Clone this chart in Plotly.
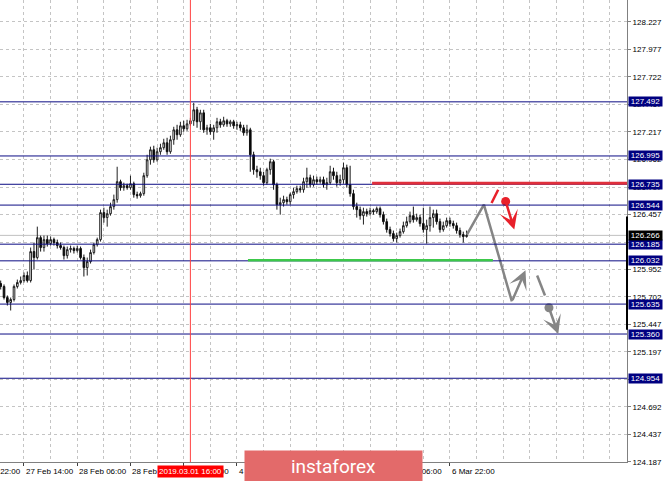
import plotly.graph_objects as go

# ---------------- data (H1 candles, bar index 1..141) ----------------
bars = list(range(1, 142))

opens = [
    125.824, 125.796, 125.695, 125.650, 125.677, 125.796, 125.833, 125.851, 125.897, 125.851,
    126.117, 126.062, 126.245, 126.154, 126.227, 126.190, 126.227, 126.200, 126.172, 126.154,
    126.080, 126.135, 126.145, 126.126, 126.145, 126.062, 125.970, 126.025, 126.108, 126.181,
    126.227, 126.475, 126.429, 126.465, 126.530, 126.594, 126.759, 126.704, 126.722, 126.704,
    126.740, 126.640, 126.630, 126.649, 126.814, 126.960, 127.052, 126.960, 127.034, 127.071,
    127.116, 127.034, 127.144, 127.235, 127.190, 127.272, 127.245, 127.290, 127.318, 127.419,
    127.309, 127.391, 127.235, 127.254, 127.217, 127.254, 127.309, 127.281, 127.318, 127.290,
    127.309, 127.272, 127.281, 127.254, 127.208, 127.235, 127.006, 126.869, 126.850, 126.814,
    126.750, 126.869, 126.942, 126.731, 126.548, 126.566, 126.594, 126.575, 126.640, 126.667,
    126.695, 126.685, 126.759, 126.795, 126.731, 126.777, 126.759, 126.777, 126.731, 126.750,
    126.850, 126.814, 126.750, 126.777, 126.887, 126.731, 126.649, 126.530, 126.502, 126.447,
    126.484, 126.465, 126.493, 126.484, 126.511, 126.456, 126.392, 126.319, 126.282, 126.236,
    126.264, 126.300, 126.355, 126.392, 126.447, 126.410, 126.429, 126.374, 126.319, 126.355,
    126.429, 126.465, 126.392, 126.319, 126.355, 126.401, 126.374, 126.355, 126.310, 126.273, 126.255,
]
highs = [
    125.851, 125.815, 125.714, 125.695, 125.815, 125.860, 125.888, 125.925, 125.934, 126.154,
    126.200, 126.346, 126.264, 126.264, 126.264, 126.255, 126.245, 126.227, 126.200, 126.172,
    126.163, 126.172, 126.163, 126.172, 126.163, 126.090, 126.062, 126.135, 126.200, 126.245,
    126.502, 126.520, 126.502, 126.566, 126.640, 126.896, 126.777, 126.750, 126.740, 126.814,
    126.759, 126.667, 126.667, 126.841, 127.006, 127.080, 127.089, 127.071, 127.107, 127.153,
    127.162, 127.181, 127.263, 127.281, 127.309, 127.318, 127.327, 127.345, 127.483, 127.446,
    127.419, 127.419, 127.281, 127.290, 127.281, 127.345, 127.336, 127.355, 127.336, 127.327,
    127.327, 127.309, 127.309, 127.281, 127.281, 127.254, 127.034, 126.905, 126.887, 126.850,
    126.887, 126.970, 126.960, 126.750, 126.612, 126.630, 126.621, 126.658, 126.704, 126.722,
    126.722, 126.795, 126.887, 126.823, 126.814, 126.805, 126.805, 126.805, 126.795, 126.905,
    126.887, 126.850, 126.823, 126.933, 126.915, 126.905, 126.685, 126.566, 126.530, 126.520,
    126.511, 126.520, 126.511, 126.530, 126.530, 126.484, 126.420, 126.346, 126.310, 126.291,
    126.328, 126.392, 126.438, 126.484, 126.530, 126.465, 126.456, 126.520, 126.410, 126.530,
    126.502, 126.502, 126.420, 126.392, 126.429, 126.429, 126.401, 126.383, 126.337, 126.300, 126.310,
]
lows = [
    125.769, 125.677, 125.622, 125.576, 125.659, 125.778, 125.815, 125.833, 125.833, 125.833,
    125.952, 126.044, 126.117, 126.117, 126.163, 126.172, 126.172, 126.145, 126.135, 126.044,
    126.053, 126.108, 126.099, 126.108, 126.044, 125.888, 125.897, 126.007, 126.090, 126.163,
    126.209, 126.383, 126.346, 126.447, 126.502, 126.566, 126.676, 126.676, 126.685, 126.685,
    126.612, 126.603, 126.612, 126.630, 126.795, 126.915, 126.933, 126.942, 127.006, 127.052,
    127.006, 127.015, 127.098, 127.144, 127.171, 127.217, 127.226, 127.272, 127.272, 127.254,
    127.235, 127.208, 127.190, 127.190, 127.144, 127.208, 127.254, 127.263, 127.263, 127.263,
    127.245, 127.235, 127.226, 127.181, 127.181, 126.850, 126.823, 126.795, 126.777, 126.722,
    126.731, 126.823, 126.685, 126.502, 126.456, 126.530, 126.548, 126.548, 126.603, 126.649,
    126.658, 126.658, 126.704, 126.704, 126.713, 126.731, 126.740, 126.704, 126.685, 126.731,
    126.777, 126.713, 126.722, 126.740, 126.704, 126.621, 126.502, 126.429, 126.410, 126.365,
    126.438, 126.447, 126.456, 126.465, 126.429, 126.365, 126.291, 126.255, 126.209, 126.200,
    126.245, 126.282, 126.337, 126.374, 126.383, 126.392, 126.346, 126.291, 126.190, 126.300,
    126.337, 126.365, 126.291, 126.300, 126.337, 126.346, 126.328, 126.282, 126.245, 126.200, 126.245,
]
closes = [
    125.796, 125.695, 125.650, 125.677, 125.796, 125.833, 125.851, 125.897, 125.851, 126.117,
    126.062, 126.245, 126.154, 126.227, 126.190, 126.227, 126.200, 126.172, 126.154, 126.080,
    126.135, 126.145, 126.126, 126.145, 126.062, 125.970, 126.025, 126.108, 126.181, 126.227,
    126.475, 126.429, 126.465, 126.530, 126.594, 126.759, 126.704, 126.722, 126.704, 126.740,
    126.640, 126.630, 126.649, 126.814, 126.960, 127.052, 126.960, 127.034, 127.071, 127.116,
    127.034, 127.144, 127.235, 127.190, 127.272, 127.245, 127.290, 127.318, 127.419, 127.309,
    127.391, 127.235, 127.254, 127.217, 127.254, 127.309, 127.281, 127.318, 127.290, 127.309,
    127.272, 127.281, 127.254, 127.208, 127.235, 127.006, 126.869, 126.850, 126.814, 126.750,
    126.869, 126.942, 126.731, 126.548, 126.566, 126.594, 126.575, 126.640, 126.667, 126.695,
    126.685, 126.759, 126.795, 126.731, 126.777, 126.759, 126.777, 126.731, 126.750, 126.850,
    126.814, 126.750, 126.777, 126.887, 126.731, 126.649, 126.530, 126.502, 126.447, 126.484,
    126.465, 126.493, 126.484, 126.511, 126.456, 126.392, 126.319, 126.282, 126.236, 126.264,
    126.300, 126.355, 126.392, 126.447, 126.410, 126.429, 126.374, 126.319, 126.355, 126.429,
    126.465, 126.392, 126.319, 126.355, 126.401, 126.374, 126.355, 126.310, 126.273, 126.255, 126.266,
]

level_prices = [127.492, 126.995, 126.735, 126.544, 126.185, 126.032, 125.635, 125.360, 124.954]
current_price = 126.266

y_tick_vals = [124.187, 124.437, 124.692, 124.942, 125.197, 125.447, 125.702, 125.952,
               126.202, 126.457, 126.707, 126.962, 127.217, 127.467, 127.722, 127.977, 128.227]

x_label_pos = [8, 24, 40, 56, 72, 88, 104, 120, 136]
x_label_text = ["27 Feb 14:00", "28 Feb 06:00", "28 Feb 22:00", "1 Mar 14:00", "4 Mar 06:00",
                "4 Mar 22:00", "5 Mar 14:00", "6 Mar 06:00", "6 Mar 22:00"]
first_label_text = "26 Feb 22:00"
grid_minor_pos = [16, 32, 48, 64, 80, 96, 112, 128, 144, 152, 160, 168, 176, 184]

marker_bar = 58
marker_text = "2019.03.01 16:00"

resistance_price = 126.745
resistance_from = 112.6
support_price = 126.037
support_from, support_to = 75.3, 148.9

gray_path_x = [141.1, 146.2, 154.6]
gray_path_y = [126.273, 126.548, 125.659]
gray_arrow1_tip = (158.7, 125.945)
gray_seg_x = [162.2, 164.55]
gray_seg_y = [125.897, 125.714]
gray_dot = (165.75, 125.601)
gray_arrow2_tip = (168.55, 125.360)
red_seg_x = [148.5, 150.5]
red_seg_y = [126.563, 126.685]
red_dot = (152.74, 126.578)
red_arrow_tip = (155.33, 126.320)

# ---------------- figure ----------------
NAVY = "#0c0c84"
GRAY = "#858585"
RED = "#e8202a"
GRID = "#c4c4c4"
FONT = "Liberation Sans"

fig = go.Figure()

fig.add_trace(go.Candlestick(
    x=bars, open=opens, high=highs, low=lows, close=closes,
    increasing=dict(line=dict(color="#202020", width=1), fillcolor="white"),
    decreasing=dict(line=dict(color="#101010", width=1), fillcolor="black"),
    whiskerwidth=0, hoverinfo="skip", showlegend=False,
))

# scenario drawings
fig.add_trace(go.Scatter(x=gray_path_x, y=gray_path_y, mode="lines",
                         line=dict(color=GRAY, width=2.5), hoverinfo="skip"))
fig.add_trace(go.Scatter(x=gray_seg_x, y=gray_seg_y, mode="lines",
                         line=dict(color=GRAY, width=2.5), hoverinfo="skip"))
fig.add_trace(go.Scatter(x=red_seg_x, y=red_seg_y, mode="lines",
                         line=dict(color=RED, width=2.5), hoverinfo="skip"))
fig.add_trace(go.Scatter(x=[red_dot[0]], y=[red_dot[1]], mode="markers",
                         marker=dict(color=RED, size=9), hoverinfo="skip"))
fig.add_trace(go.Scatter(x=[gray_dot[0]], y=[gray_dot[1]], mode="markers",
                         marker=dict(color=GRAY, size=9), hoverinfo="skip"))

shapes = []
for p in level_prices:
    shapes.append(dict(type="line", xref="paper", x0=0, x1=1, yref="y", y0=p, y1=p,
                       line=dict(color=NAVY, width=1), layer="above"))
shapes.append(dict(type="line", xref="paper", x0=0, x1=1, yref="y", y0=current_price,
                   y1=current_price, line=dict(color="#c0c0c0", width=1), layer="below"))
shapes.append(dict(type="line", xref="x", x0=resistance_from, x1=189.2, yref="y",
                   y0=resistance_price, y1=resistance_price, line=dict(color="#e0303c", width=3)))
shapes.append(dict(type="line", xref="x", x0=support_from, x1=support_to, yref="y",
                   y0=support_price, y1=support_price, line=dict(color="#3cc84a", width=2.5)))
shapes.append(dict(type="line", xref="x", x0=marker_bar, x1=marker_bar, yref="paper",
                   y0=0, y1=1, line=dict(color="#ff4040", width=1)))
shapes.append(dict(type="line", xref="paper", x0=1, x1=1, yref="y", y0=126.44, y1=125.40,
                   line=dict(color="black", width=2)))

annotations = []
# x-axis labels (left aligned at tick)
annotations.append(dict(text=first_label_text, xref="paper", x=-29 / 627, xanchor="left",
                        yref="paper", y=0, yanchor="top", yshift=-3, showarrow=False,
                        font=dict(family=FONT, size=8, color="black")))
for pos, txt in zip(x_label_pos, x_label_text):
    annotations.append(dict(text=txt, xref="x", x=pos, xanchor="left", yref="paper", y=0,
                            yanchor="top", yshift=-3, showarrow=False,
                            font=dict(family=FONT, size=8, color="black")))
annotations.append(dict(text=marker_text, xref="x", x=marker_bar, xanchor="center",
                        yref="paper", y=0, yanchor="top", yshift=-3, showarrow=False,
                        bgcolor="#ff0000", borderpad=1,
                        font=dict(family=FONT, size=8, color="white")))
# price labels
for p in level_prices:
    annotations.append(dict(text=f"{p:.3f}", xref="paper", x=1, xanchor="left", xshift=1,
                            yref="y", y=p, showarrow=False, bgcolor="#000080",
                            width=33, height=9, borderpad=0,
                            font=dict(family=FONT, size=8, color="white")))
annotations.append(dict(text=f"{current_price:.3f}", xref="paper", x=1, xanchor="left",
                        xshift=1, yref="y", y=current_price, showarrow=False, bgcolor="black",
                        width=33, height=9, borderpad=0,
                        font=dict(family=FONT, size=8, color="white")))
# arrows
for tail, tip, col in [((gray_path_x[-1], gray_path_y[-1]), gray_arrow1_tip, GRAY),
                       (gray_dot, gray_arrow2_tip, GRAY),
                       (red_dot, red_arrow_tip, RED)]:
    annotations.append(dict(text="", x=tip[0], y=tip[1], xref="x", yref="y",
                            ax=tail[0], ay=tail[1], axref="x", ayref="y", showarrow=True,
                            arrowhead=3, arrowsize=1.25, arrowwidth=2.5, arrowcolor=col,
                            standoff=0, startstandoff=0))
# logo
annotations.append(dict(text="instaforex", xref="paper", x=333.5 / 627, xanchor="center",
                        yref="paper", y=(462 - 466) / 462, yanchor="middle", showarrow=False,
                        width=177, height=30, borderpad=0, bgcolor="#e36a6a",
                        font=dict(family="Roboto", size=19, color="white")))

fig.update_layout(
    width=665, height=481,
    margin=dict(l=0, r=38, t=0, b=19, autoexpand=False),
    paper_bgcolor="white", plot_bgcolor="white",
    showlegend=False,
    font=dict(family=FONT, size=8, color="black"),
    shapes=shapes, annotations=annotations,
    xaxis=dict(
        range=[0.79, 189.2], rangeslider=dict(visible=False),
        tickmode="array", tickvals=x_label_pos, showticklabels=False,
        ticks="outside", ticklen=3, tickcolor="#404040",
        showgrid=True, gridcolor=GRID, griddash="3px,3px", gridwidth=1,
        minor=dict(tickmode="array", tickvals=grid_minor_pos, showgrid=True,
                   gridcolor=GRID, griddash="3px,3px", ticks=""),
        showline=True, linecolor="#808080", linewidth=1, zeroline=False, fixedrange=True,
    ),
    yaxis=dict(
        side="right", range=[124.185, 128.427],
        tickmode="array", tickvals=y_tick_vals, ticktext=[f"{v:.3f}" for v in y_tick_vals],
        ticks="outside", ticklen=3, tickcolor="#808080",
        tickfont=dict(family=FONT, size=8, color="black"),
        showgrid=True, gridcolor=GRID, griddash="3px,3px", gridwidth=1,
        showline=True, linecolor="#808080", linewidth=1, zeroline=False, fixedrange=True,
    ),
)

fig.write_html(
    "out.html",
    config={"displayModeBar": False},
    post_script="document.body.style.margin='0';document.body.style.padding='0';"
                "document.body.style.overflow='hidden';",
)
